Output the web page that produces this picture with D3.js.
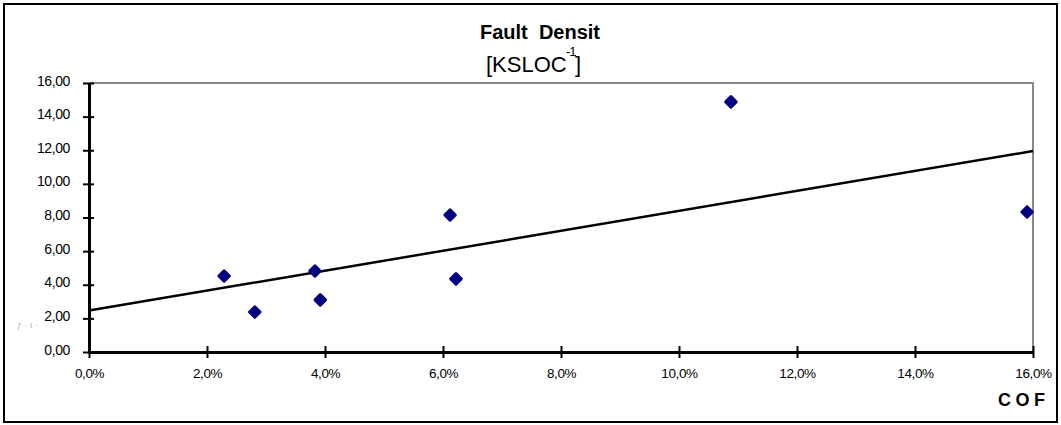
<!DOCTYPE html>
<html>
<head>
<meta charset="utf-8">
<script src="https://cdn.jsdelivr.net/npm/d3@7"></script>
<style>
  body { margin: 0; background: #fff; }
  svg text { font-family: "Liberation Sans", Arial, sans-serif; }
</style>
</head>
<body>
<div id="chart"></div>
<script>
// COF (%) and fault density values
const cof = [2.29, 2.81, 3.83, 3.92, 6.12, 6.22, 10.88, 15.9];
const faultDensity = [4.52, 2.38, 4.82, 3.1, 8.15, 4.35, 14.88, 8.33];
const xTicks = [0, 2, 4, 6, 8, 10, 12, 14, 16];
const yTicks = [0, 2, 4, 6, 8, 10, 12, 14, 16];

const width = 1061;
const height = 425;
const margin = { top: 83, right: 28, bottom: 73, left: 89 };
const graphWidth = width - margin.left - margin.right;
const graphHeight = height - margin.top - margin.bottom;

const points = cof.map((c, i) => ({ x: c, y: faultDensity[i] }));

const x = d3.scaleLinear().domain([0, 16]).range([0, graphWidth]);
const y = d3.scaleLinear().domain([0, 16]).range([graphHeight, 0]);

const fmtX = (d) => d.toFixed(1).replace(".", ",") + "%";
const fmtY = (d) => d.toFixed(2).replace(".", ",");

const root = d3
  .select("#chart")
  .append("svg")
  .attr("width", width)
  .attr("height", height);

// outer frame
root
  .append("rect")
  .attr("x", 4)
  .attr("y", 4)
  .attr("width", 1053)
  .attr("height", 418)
  .attr("fill", "none")
  .attr("stroke", "#000")
  .attr("stroke-width", 2);

// title
const title = root.append("g");
title
  .append("text")
  .attr("x", 480)
  .attr("y", 39)
  .attr("font-size", 20)
  .attr("font-weight", "bold")
  .attr("xml:space", "preserve")
  .text("Fault  Densit");
title
  .append("text")
  .attr("x", 486)
  .attr("y", 72)
  .attr("font-size", 22)
  .text("[KSLOC");
title
  .append("text")
  .attr("x", 566)
  .attr("y", 56)
  .attr("font-size", 13)
  .attr("letter-spacing", "-1px")
  .text("-1");
title
  .append("text")
  .attr("x", 575)
  .attr("y", 72)
  .attr("font-size", 22)
  .text("]");

const svg = root
  .append("g")
  .attr("transform", `translate(${margin.left}, ${margin.top})`);

// plot frame (top and right, grey)
svg
  .append("path")
  .attr("d", `M0,0H${graphWidth}V${graphHeight}`)
  .attr("fill", "none")
  .attr("stroke", "#888")
  .attr("stroke-width", 2);

// axes
const xAxis = svg
  .append("g")
  .attr("transform", `translate(0,${graphHeight})`)
  .call(
    d3.axisBottom(x).tickValues(xTicks).tickFormat(fmtX).tickSizeInner(6).tickSizeOuter(0)
  );
xAxis.select(".domain").attr("stroke-width", 3);
xAxis
  .selectAll(".tick line")
  .attr("y1", -6)
  .attr("y2", 6)
  .attr("stroke-width", 2);
xAxis
  .selectAll(".tick text")
  .attr("y", 16)
  .style("font-size", "13.5px")
  .attr("letter-spacing", "-0.4px");

const yAxis = svg
  .append("g")
  .call(
    d3.axisLeft(y).tickValues(yTicks).tickFormat(fmtY).tickSizeInner(6).tickSizeOuter(0)
  );
yAxis.select(".domain").attr("stroke-width", 3);
yAxis
  .selectAll(".tick line")
  .attr("x1", -6)
  .attr("x2", 5)
  .attr("stroke-width", 2);
yAxis
  .selectAll(".tick text")
  .attr("x", -19)
  .attr("dy", "0.15em")
  .style("font-size", "14px")
  .attr("letter-spacing", "-0.4px");

// x axis title
root
  .append("text")
  .attr("x", 998)
  .attr("y", 406)
  .attr("font-size", 18)
  .attr("font-weight", "bold")
  .attr("letter-spacing", "4.5px")
  .text("COF");

// faint clipped y title fragment
root
  .append("text")
  .attr("x", 17)
  .attr("y", 328)
  .attr("font-size", 8)
  .attr("fill", "#aaa")
  .attr("letter-spacing", "3px")
  .text("ƒ·t·");

// linear trend line (least squares)
const mx = d3.mean(cof);
const my = d3.mean(faultDensity);
const slope =
  d3.sum(points, (d) => (d.x - mx) * (d.y - my)) /
  d3.sum(points, (d) => (d.x - mx) ** 2);
const intercept = my - slope * mx;
const trend = [0, 16].map((v) => ({ x: v, y: intercept + slope * v }));

svg
  .append("path")
  .datum(trend)
  .attr(
    "d",
    d3
      .line()
      .x((d) => x(d.x))
      .y((d) => y(d.y))
  )
  .attr("fill", "none")
  .attr("stroke", "#000")
  .attr("stroke-width", 2.5);

// markers
svg
  .selectAll(".point")
  .data(points)
  .enter()
  .append("path")
  .attr("class", "point")
  .attr("transform", (d) => `translate(${x(d.x)},${y(d.y)}) rotate(45)`)
  .attr("d", d3.symbol().type(d3.symbolSquare).size(55))
  .attr("fill", "#000080")
  .attr("stroke", "#000080")
  .attr("stroke-width", 3)
  .attr("stroke-linejoin", "round");
</script>
</body>
</html>
